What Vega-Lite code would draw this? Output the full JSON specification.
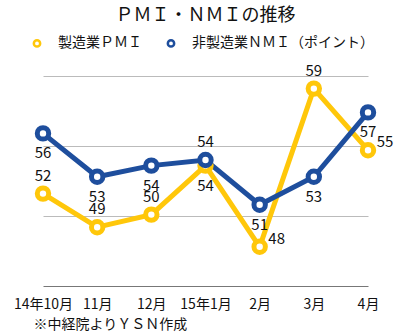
{
  "$schema": "https://vega.github.io/schema/vega-lite/v6.json",
  "autosize": "none",
  "width": 325,
  "height": 210,
  "padding": {"left": 43, "top": 76, "right": 34, "bottom": 50},
  "background": "white",
  "config": {"font": "Noto Sans CJK JP", "view": {"stroke": null}},
  "title": {"text": "ＰＭＩ・ＮＭＩの推移", "fontSize": 18, "fontWeight": "normal", "color": "#111", "anchor": "middle", "frame": "group", "offset": 11},
  "data": {"values": [
    {"month": "14年10月", "series": "製造業ＰＭＩ", "value": 51.6, "label": "52"},
    {"month": "11月", "series": "製造業ＰＭＩ", "value": 49.2, "label": "49"},
    {"month": "12月", "series": "製造業ＰＭＩ", "value": 50.1, "label": "50"},
    {"month": "15年1月", "series": "製造業ＰＭＩ", "value": 53.6, "label": "54"},
    {"month": "2月", "series": "製造業ＰＭＩ", "value": 47.8, "label": "48"},
    {"month": "3月", "series": "製造業ＰＭＩ", "value": 59.1, "label": "59"},
    {"month": "4月", "series": "製造業ＰＭＩ", "value": 54.7, "label": "55"},
    {"month": "14年10月", "series": "非製造業ＮＭＩ（ポイント）", "value": 55.9, "label": "56"},
    {"month": "11月", "series": "非製造業ＮＭＩ（ポイント）", "value": 52.8, "label": "53"},
    {"month": "12月", "series": "非製造業ＮＭＩ（ポイント）", "value": 53.6, "label": "54"},
    {"month": "15年1月", "series": "非製造業ＮＭＩ（ポイント）", "value": 54.0, "label": "54"},
    {"month": "2月", "series": "非製造業ＮＭＩ（ポイント）", "value": 50.8, "label": "51"},
    {"month": "3月", "series": "非製造業ＮＭＩ（ポイント）", "value": 52.8, "label": "53"},
    {"month": "4月", "series": "非製造業ＮＭＩ（ポイント）", "value": 57.4, "label": "57"}
  ]},
  "encoding": {
    "x": {"field": "month", "type": "ordinal", "sort": null,
      "scale": {"type": "point", "padding": 0},
      "axis": {"title": "※中経院よりＹＳＮ作成", "titleFontSize": 14, "titleFontWeight": "normal", "titleColor": "#111", "titleAnchor": "start", "titleAlign": "left", "titleX": -10, "titleY": 38, "titleBaseline": "middle",
        "labelAngle": 0, "labelFontSize": 14, "labelColor": "#111", "labelPadding": 11, "ticks": false, "domainColor": "#777", "domainWidth": 1, "grid": false, "labelOverlap": false}},
    "y": {"field": "value", "type": "quantitative", "scale": {"domain": [45, 60], "nice": false, "zero": false},
      "axis": {"title": null, "labels": false, "ticks": false, "domain": false, "values": [50, 55, 60], "grid": true, "gridColor": "#bbb", "gridWidth": 1}}
  },
  "layer": [
    {"mark": {"type": "line", "strokeWidth": 5},
      "encoding": {"color": {"field": "series", "type": "nominal", "sort": ["製造業ＰＭＩ", "非製造業ＮＭＩ（ポイント）"],
        "scale": {"domain": ["製造業ＰＭＩ", "非製造業ＮＭＩ（ポイント）"], "range": ["#FFC70A", "#1E4E9D"]},
        "legend": {"title": null, "orient": "none", "legendX": -13, "legendY": -40, "direction": "horizontal", "symbolType": "circle", "symbolSize": 40, "symbolStrokeWidth": 2.5, "symbolFillColor": "white", "labelFontSize": 14, "labelColor": "#111", "labelOffset": 14, "labelLimit": 300, "columnPadding": 20}}}},
    {"mark": {"type": "point", "filled": false, "fill": "white", "size": 130, "strokeWidth": 5, "opacity": 1},
      "encoding": {"color": {"field": "series", "type": "nominal", "legend": null}}},
    {"transform": [{"filter": "(datum.series == '非製造業ＮＭＩ（ポイント）' && datum.month != '15年1月') || (datum.series == '製造業ＰＭＩ' && datum.month == '15年1月')"}],
      "mark": {"type": "text", "fontSize": 15, "color": "#111", "dy": 20},
      "encoding": {"text": {"field": "label"}}},
    {"transform": [{"filter": "(datum.series == '製造業ＰＭＩ' && indexof(['14年10月','11月','12月','3月'], datum.month) >= 0) || (datum.series == '非製造業ＮＭＩ（ポイント）' && datum.month == '15年1月')"}],
      "mark": {"type": "text", "fontSize": 15, "color": "#111", "dy": -18},
      "encoding": {"text": {"field": "label"}}},
    {"transform": [{"filter": "datum.series == '製造業ＰＭＩ' && (datum.month == '2月' || datum.month == '4月')"}],
      "mark": {"type": "text", "fontSize": 15, "color": "#111", "dx": 17, "dy": -8},
      "encoding": {"text": {"field": "label"}}}
  ]
}
